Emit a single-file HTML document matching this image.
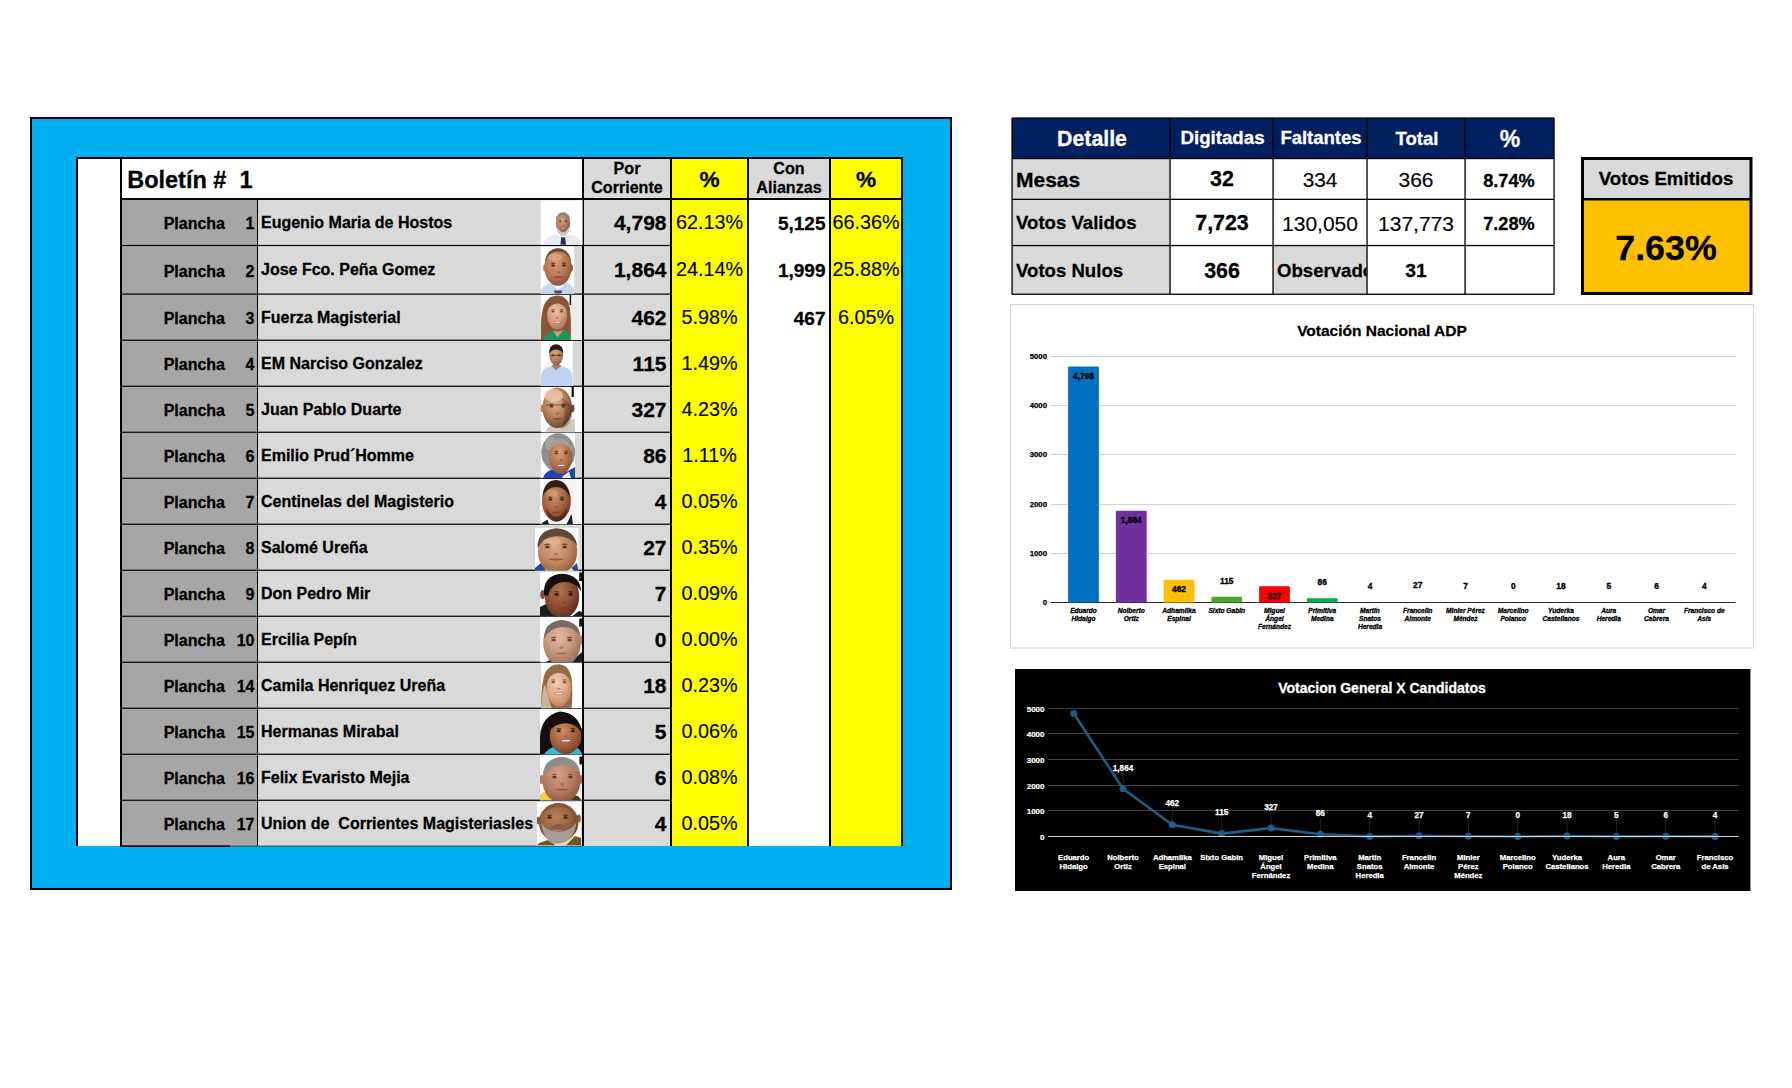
<!DOCTYPE html>
<html lang="es"><head><meta charset="utf-8"><title>Boletín # 1</title>
<style>
html,body{margin:0;padding:0;background:#fff;}
body{width:1792px;height:1088px;overflow:hidden;}
svg{display:block;font-family:"Liberation Sans",sans-serif;}
</style></head><body>
<svg width="1792" height="1088" viewBox="0 0 1792 1088">
<rect x="30" y="117" width="922" height="773" fill="#000" />
<rect x="32" y="119" width="918" height="769" fill="#00b0f0" />
<rect x="76" y="157" width="827" height="690" fill="#000" />
<rect x="78" y="159" width="42" height="688" fill="#fff" />
<rect x="122" y="159" width="460" height="39" fill="#fff" />
<rect x="122" y="200" width="135" height="646" fill="#a6a6a6" />
<rect x="258" y="200" width="324" height="646" fill="#d9d9d9" />
<rect x="584" y="159" width="86" height="688" fill="#d9d9d9" />
<rect x="672" y="159" width="75" height="688" fill="#ffff00" />
<rect x="749" y="159" width="80" height="39" fill="#d9d9d9" />
<rect x="749" y="200" width="80" height="647" fill="#fff" />
<rect x="831" y="159" width="70" height="688" fill="#ffff00" />
<rect x="120" y="198" width="783" height="2" fill="#000" />
<rect x="122" y="244.9" width="548" height="1.2" fill="#000" />
<rect x="122" y="293.5" width="548" height="1.2" fill="#000" />
<rect x="122" y="339.65" width="548" height="1.2" fill="#000" />
<rect x="122" y="385.65" width="548" height="1.2" fill="#000" />
<rect x="122" y="431.65" width="548" height="1.2" fill="#000" />
<rect x="122" y="477.65" width="548" height="1.2" fill="#000" />
<rect x="122" y="523.65" width="548" height="1.2" fill="#000" />
<rect x="122" y="569.65" width="548" height="1.2" fill="#000" />
<rect x="122" y="615.65" width="548" height="1.2" fill="#000" />
<rect x="122" y="661.65" width="548" height="1.2" fill="#000" />
<rect x="122" y="707.65" width="548" height="1.2" fill="#000" />
<rect x="122" y="753.65" width="548" height="1.2" fill="#000" />
<rect x="122" y="799.65" width="548" height="1.2" fill="#000" />
<rect x="76" y="846" width="827" height="2" fill="#00b0f0" />
<rect x="120" y="845.3" width="110" height="1.7" fill="#000" />
<rect x="230" y="845.6" width="352" height="1" fill="#444" />
<text x="127.2" y="188" font-size="23.5" text-anchor="start" font-weight="bold" fill="#000"  stroke="#000" stroke-width="0.28">Boletín #&#160;&#160;1</text>
<text x="627" y="173.6" font-size="16.1" text-anchor="middle" font-weight="bold" fill="#000"  stroke="#000" stroke-width="0.28">Por</text>
<text x="627" y="192.8" font-size="16.1" text-anchor="middle" font-weight="bold" fill="#000"  stroke="#000" stroke-width="0.28">Corriente</text>
<text x="709.5" y="186.8" font-size="22.6" text-anchor="middle" font-weight="bold" fill="#000"  stroke="#000" stroke-width="0.28">%</text>
<text x="789" y="173.6" font-size="16.1" text-anchor="middle" font-weight="bold" fill="#000"  stroke="#000" stroke-width="0.28">Con</text>
<text x="789" y="192.8" font-size="16.1" text-anchor="middle" font-weight="bold" fill="#000"  stroke="#000" stroke-width="0.28">Alianzas</text>
<text x="866" y="186.8" font-size="22.6" text-anchor="middle" font-weight="bold" fill="#000"  stroke="#000" stroke-width="0.28">%</text>
<text x="225" y="229.45" font-size="16" text-anchor="end" font-weight="bold" fill="#000"  stroke="#000" stroke-width="0.28">Plancha</text>
<text x="254.5" y="229.45" font-size="16" text-anchor="end" font-weight="bold" fill="#000"  stroke="#000" stroke-width="0.28">1</text>
<text x="261" y="228.15" font-size="16" text-anchor="start" font-weight="bold" fill="#000"  stroke="#000" stroke-width="0.28">Eugenio Maria de Hostos</text>
<text x="666.5" y="230.25" font-size="21" text-anchor="end" font-weight="bold" fill="#000"  stroke="#000" stroke-width="0.28">4,798</text>
<text x="709.5" y="229.35" font-size="19.8" text-anchor="middle" font-weight="normal" fill="#000"  stroke="#000" stroke-width="0.15">62.13%</text>
<text x="825.5" y="230.15" font-size="19" text-anchor="end" font-weight="bold" fill="#000"  stroke="#000" stroke-width="0.28">5,125</text>
<text x="866" y="229.35" font-size="19.8" text-anchor="middle" font-weight="normal" fill="#000"  stroke="#000" stroke-width="0.15">66.36%</text>
<text x="225" y="276.5" font-size="16" text-anchor="end" font-weight="bold" fill="#000"  stroke="#000" stroke-width="0.28">Plancha</text>
<text x="254.5" y="276.5" font-size="16" text-anchor="end" font-weight="bold" fill="#000"  stroke="#000" stroke-width="0.28">2</text>
<text x="261" y="275.2" font-size="16" text-anchor="start" font-weight="bold" fill="#000"  stroke="#000" stroke-width="0.28">Jose Fco. Peña Gomez</text>
<text x="666.5" y="277.3" font-size="21" text-anchor="end" font-weight="bold" fill="#000"  stroke="#000" stroke-width="0.28">1,864</text>
<text x="709.5" y="276.4" font-size="19.8" text-anchor="middle" font-weight="normal" fill="#000"  stroke="#000" stroke-width="0.15">24.14%</text>
<text x="825.5" y="277.2" font-size="19" text-anchor="end" font-weight="bold" fill="#000"  stroke="#000" stroke-width="0.28">1,999</text>
<text x="866" y="276.4" font-size="19.8" text-anchor="middle" font-weight="normal" fill="#000"  stroke="#000" stroke-width="0.15">25.88%</text>
<text x="225" y="323.875" font-size="16" text-anchor="end" font-weight="bold" fill="#000"  stroke="#000" stroke-width="0.28">Plancha</text>
<text x="254.5" y="323.875" font-size="16" text-anchor="end" font-weight="bold" fill="#000"  stroke="#000" stroke-width="0.28">3</text>
<text x="261" y="322.575" font-size="16" text-anchor="start" font-weight="bold" fill="#000"  stroke="#000" stroke-width="0.28">Fuerza Magisterial</text>
<text x="666.5" y="324.675" font-size="21" text-anchor="end" font-weight="bold" fill="#000"  stroke="#000" stroke-width="0.28">462</text>
<text x="709.5" y="323.775" font-size="19.8" text-anchor="middle" font-weight="normal" fill="#000"  stroke="#000" stroke-width="0.15">5.98%</text>
<text x="825.5" y="324.575" font-size="19" text-anchor="end" font-weight="bold" fill="#000"  stroke="#000" stroke-width="0.28">467</text>
<text x="866" y="323.775" font-size="19.8" text-anchor="middle" font-weight="normal" fill="#000"  stroke="#000" stroke-width="0.15">6.05%</text>
<text x="225" y="369.95" font-size="16" text-anchor="end" font-weight="bold" fill="#000"  stroke="#000" stroke-width="0.28">Plancha</text>
<text x="254.5" y="369.95" font-size="16" text-anchor="end" font-weight="bold" fill="#000"  stroke="#000" stroke-width="0.28">4</text>
<text x="261" y="368.65" font-size="16" text-anchor="start" font-weight="bold" fill="#000"  stroke="#000" stroke-width="0.28">EM Narciso Gonzalez</text>
<text x="666.5" y="370.75" font-size="21" text-anchor="end" font-weight="bold" fill="#000"  stroke="#000" stroke-width="0.28">115</text>
<text x="709.5" y="369.85" font-size="19.8" text-anchor="middle" font-weight="normal" fill="#000"  stroke="#000" stroke-width="0.15">1.49%</text>
<text x="225" y="415.95" font-size="16" text-anchor="end" font-weight="bold" fill="#000"  stroke="#000" stroke-width="0.28">Plancha</text>
<text x="254.5" y="415.95" font-size="16" text-anchor="end" font-weight="bold" fill="#000"  stroke="#000" stroke-width="0.28">5</text>
<text x="261" y="414.65" font-size="16" text-anchor="start" font-weight="bold" fill="#000"  stroke="#000" stroke-width="0.28">Juan Pablo Duarte</text>
<text x="666.5" y="416.75" font-size="21" text-anchor="end" font-weight="bold" fill="#000"  stroke="#000" stroke-width="0.28">327</text>
<text x="709.5" y="415.85" font-size="19.8" text-anchor="middle" font-weight="normal" fill="#000"  stroke="#000" stroke-width="0.15">4.23%</text>
<text x="225" y="461.95" font-size="16" text-anchor="end" font-weight="bold" fill="#000"  stroke="#000" stroke-width="0.28">Plancha</text>
<text x="254.5" y="461.95" font-size="16" text-anchor="end" font-weight="bold" fill="#000"  stroke="#000" stroke-width="0.28">6</text>
<text x="261" y="460.65" font-size="16" text-anchor="start" font-weight="bold" fill="#000"  stroke="#000" stroke-width="0.28">Emilio Prud´Homme</text>
<text x="666.5" y="462.75" font-size="21" text-anchor="end" font-weight="bold" fill="#000"  stroke="#000" stroke-width="0.28">86</text>
<text x="709.5" y="461.85" font-size="19.8" text-anchor="middle" font-weight="normal" fill="#000"  stroke="#000" stroke-width="0.15">1.11%</text>
<text x="225" y="507.95" font-size="16" text-anchor="end" font-weight="bold" fill="#000"  stroke="#000" stroke-width="0.28">Plancha</text>
<text x="254.5" y="507.95" font-size="16" text-anchor="end" font-weight="bold" fill="#000"  stroke="#000" stroke-width="0.28">7</text>
<text x="261" y="506.65" font-size="16" text-anchor="start" font-weight="bold" fill="#000"  stroke="#000" stroke-width="0.28">Centinelas del Magisterio</text>
<text x="666.5" y="508.75" font-size="21" text-anchor="end" font-weight="bold" fill="#000"  stroke="#000" stroke-width="0.28">4</text>
<text x="709.5" y="507.85" font-size="19.8" text-anchor="middle" font-weight="normal" fill="#000"  stroke="#000" stroke-width="0.15">0.05%</text>
<text x="225" y="553.95" font-size="16" text-anchor="end" font-weight="bold" fill="#000"  stroke="#000" stroke-width="0.28">Plancha</text>
<text x="254.5" y="553.95" font-size="16" text-anchor="end" font-weight="bold" fill="#000"  stroke="#000" stroke-width="0.28">8</text>
<text x="261" y="552.65" font-size="16" text-anchor="start" font-weight="bold" fill="#000"  stroke="#000" stroke-width="0.28">Salomé Ureña</text>
<text x="666.5" y="554.75" font-size="21" text-anchor="end" font-weight="bold" fill="#000"  stroke="#000" stroke-width="0.28">27</text>
<text x="709.5" y="553.85" font-size="19.8" text-anchor="middle" font-weight="normal" fill="#000"  stroke="#000" stroke-width="0.15">0.35%</text>
<text x="225" y="599.95" font-size="16" text-anchor="end" font-weight="bold" fill="#000"  stroke="#000" stroke-width="0.28">Plancha</text>
<text x="254.5" y="599.95" font-size="16" text-anchor="end" font-weight="bold" fill="#000"  stroke="#000" stroke-width="0.28">9</text>
<text x="261" y="598.65" font-size="16" text-anchor="start" font-weight="bold" fill="#000"  stroke="#000" stroke-width="0.28">Don Pedro Mir</text>
<text x="666.5" y="600.75" font-size="21" text-anchor="end" font-weight="bold" fill="#000"  stroke="#000" stroke-width="0.28">7</text>
<text x="709.5" y="599.85" font-size="19.8" text-anchor="middle" font-weight="normal" fill="#000"  stroke="#000" stroke-width="0.15">0.09%</text>
<text x="225" y="645.95" font-size="16" text-anchor="end" font-weight="bold" fill="#000"  stroke="#000" stroke-width="0.28">Plancha</text>
<text x="254.5" y="645.95" font-size="16" text-anchor="end" font-weight="bold" fill="#000"  stroke="#000" stroke-width="0.28">10</text>
<text x="261" y="644.65" font-size="16" text-anchor="start" font-weight="bold" fill="#000"  stroke="#000" stroke-width="0.28">Ercilia Pepín</text>
<text x="666.5" y="646.75" font-size="21" text-anchor="end" font-weight="bold" fill="#000"  stroke="#000" stroke-width="0.28">0</text>
<text x="709.5" y="645.85" font-size="19.8" text-anchor="middle" font-weight="normal" fill="#000"  stroke="#000" stroke-width="0.15">0.00%</text>
<text x="225" y="691.95" font-size="16" text-anchor="end" font-weight="bold" fill="#000"  stroke="#000" stroke-width="0.28">Plancha</text>
<text x="254.5" y="691.95" font-size="16" text-anchor="end" font-weight="bold" fill="#000"  stroke="#000" stroke-width="0.28">14</text>
<text x="261" y="690.65" font-size="16" text-anchor="start" font-weight="bold" fill="#000"  stroke="#000" stroke-width="0.28">Camila Henriquez Ureña</text>
<text x="666.5" y="692.75" font-size="21" text-anchor="end" font-weight="bold" fill="#000"  stroke="#000" stroke-width="0.28">18</text>
<text x="709.5" y="691.85" font-size="19.8" text-anchor="middle" font-weight="normal" fill="#000"  stroke="#000" stroke-width="0.15">0.23%</text>
<text x="225" y="737.95" font-size="16" text-anchor="end" font-weight="bold" fill="#000"  stroke="#000" stroke-width="0.28">Plancha</text>
<text x="254.5" y="737.95" font-size="16" text-anchor="end" font-weight="bold" fill="#000"  stroke="#000" stroke-width="0.28">15</text>
<text x="261" y="736.65" font-size="16" text-anchor="start" font-weight="bold" fill="#000"  stroke="#000" stroke-width="0.28">Hermanas Mirabal</text>
<text x="666.5" y="738.75" font-size="21" text-anchor="end" font-weight="bold" fill="#000"  stroke="#000" stroke-width="0.28">5</text>
<text x="709.5" y="737.85" font-size="19.8" text-anchor="middle" font-weight="normal" fill="#000"  stroke="#000" stroke-width="0.15">0.06%</text>
<text x="225" y="783.95" font-size="16" text-anchor="end" font-weight="bold" fill="#000"  stroke="#000" stroke-width="0.28">Plancha</text>
<text x="254.5" y="783.95" font-size="16" text-anchor="end" font-weight="bold" fill="#000"  stroke="#000" stroke-width="0.28">16</text>
<text x="261" y="782.65" font-size="16" text-anchor="start" font-weight="bold" fill="#000"  stroke="#000" stroke-width="0.28">Felix Evaristo Mejia</text>
<text x="666.5" y="784.75" font-size="21" text-anchor="end" font-weight="bold" fill="#000"  stroke="#000" stroke-width="0.28">6</text>
<text x="709.5" y="783.85" font-size="19.8" text-anchor="middle" font-weight="normal" fill="#000"  stroke="#000" stroke-width="0.15">0.08%</text>
<text x="225" y="829.825" font-size="16" text-anchor="end" font-weight="bold" fill="#000"  stroke="#000" stroke-width="0.28">Plancha</text>
<text x="254.5" y="829.825" font-size="16" text-anchor="end" font-weight="bold" fill="#000"  stroke="#000" stroke-width="0.28">17</text>
<text x="261" y="828.525" font-size="16" text-anchor="start" font-weight="bold" fill="#000"  stroke="#000" stroke-width="0.28">Union de&#160; Corrientes Magisteriasles</text>
<text x="666.5" y="830.625" font-size="21" text-anchor="end" font-weight="bold" fill="#000"  stroke="#000" stroke-width="0.28">4</text>
<text x="709.5" y="829.725" font-size="19.8" text-anchor="middle" font-weight="normal" fill="#000"  stroke="#000" stroke-width="0.15">0.05%</text>
<defs><filter id="bl" x="-5%" y="-5%" width="110%" height="110%"><feGaussianBlur stdDeviation="0.5"/></filter>
<radialGradient id="sk1" cx="0.42" cy="0.36" r="0.72"><stop offset="0" stop-color="#d3a084"/><stop offset="0.55" stop-color="#b07c60"/><stop offset="1" stop-color="#7e5038"/></radialGradient>
<radialGradient id="sk2" cx="0.42" cy="0.36" r="0.72"><stop offset="0" stop-color="#d99c76"/><stop offset="0.55" stop-color="#b87854"/><stop offset="1" stop-color="#84492e"/></radialGradient>
<radialGradient id="sk3" cx="0.42" cy="0.36" r="0.72"><stop offset="0" stop-color="#edbfa2"/><stop offset="0.55" stop-color="#d69c7c"/><stop offset="1" stop-color="#a86c4e"/></radialGradient>
<radialGradient id="sk4" cx="0.42" cy="0.36" r="0.72"><stop offset="0" stop-color="#d9a484"/><stop offset="0.55" stop-color="#b98062"/><stop offset="1" stop-color="#8a563a"/></radialGradient>
<radialGradient id="sk5" cx="0.42" cy="0.36" r="0.72"><stop offset="0" stop-color="#e0b494"/><stop offset="0.55" stop-color="#b07a58"/><stop offset="1" stop-color="#5e3626"/></radialGradient>
<radialGradient id="sk6" cx="0.42" cy="0.36" r="0.72"><stop offset="0" stop-color="#d9a07a"/><stop offset="0.55" stop-color="#b4744e"/><stop offset="1" stop-color="#7e4830"/></radialGradient>
<radialGradient id="sk7" cx="0.42" cy="0.36" r="0.72"><stop offset="0" stop-color="#d09468"/><stop offset="0.55" stop-color="#a4623e"/><stop offset="1" stop-color="#5c2e1c"/></radialGradient>
<radialGradient id="sk8" cx="0.42" cy="0.36" r="0.72"><stop offset="0" stop-color="#e0aa8a"/><stop offset="0.55" stop-color="#c08662"/><stop offset="1" stop-color="#8a5638"/></radialGradient>
<radialGradient id="sk9" cx="0.42" cy="0.36" r="0.72"><stop offset="0" stop-color="#b87450"/><stop offset="0.55" stop-color="#8c4c32"/><stop offset="1" stop-color="#4e261a"/></radialGradient>
<radialGradient id="sk10" cx="0.42" cy="0.36" r="0.72"><stop offset="0" stop-color="#e2b8a0"/><stop offset="0.55" stop-color="#c4947a"/><stop offset="1" stop-color="#8e6450"/></radialGradient>
<radialGradient id="sk11" cx="0.42" cy="0.36" r="0.72"><stop offset="0" stop-color="#f6cdb2"/><stop offset="0.55" stop-color="#e2a686"/><stop offset="1" stop-color="#b87a5a"/></radialGradient>
<radialGradient id="sk12" cx="0.42" cy="0.36" r="0.72"><stop offset="0" stop-color="#cc8c64"/><stop offset="0.55" stop-color="#a4623e"/><stop offset="1" stop-color="#6a3822"/></radialGradient>
<radialGradient id="sk13" cx="0.42" cy="0.36" r="0.72"><stop offset="0" stop-color="#d8a084"/><stop offset="0.55" stop-color="#b87c60"/><stop offset="1" stop-color="#80503a"/></radialGradient>
<radialGradient id="sk14" cx="0.42" cy="0.36" r="0.72"><stop offset="0" stop-color="#b8805a"/><stop offset="0.55" stop-color="#94603e"/><stop offset="1" stop-color="#5c3822"/></radialGradient>
</defs>
<clipPath id="cp1"><rect x="540.8" y="200.4" width="41.8" height="44.4"/></clipPath>
<rect x="540.8" y="200.4" width="41.8" height="44.4" fill="#fff" />
<g clip-path="url(#cp1)"><g filter="url(#bl)">
<path d="M543 245 Q545 236 556 234.5 L563 238 L570 234.5 Q580 236 581 245 Z" fill="#e6eaf3" />
<ellipse cx="563" cy="223.3" rx="7.2" ry="10.6" fill="url(#sk1)" />
<path d="M555.9 220 Q556.6 212.4 563 212.3 Q569.6 212.4 570.3 220 Q569 215.4 563 215 Q557.4 215.4 555.9 220 Z" fill="#8a837c" opacity="0.8"/>
<path d="M556.8 226.5 Q563 238 569.4 226.5 Q569 235.6 563 236.2 Q557.4 235.6 556.8 226.5 Z" fill="#cfc9c4" />
<ellipse cx="560.2" cy="220.19" rx="1.32" ry="0.385" fill="#3a2418" opacity="0.7"/>
<ellipse cx="560.2" cy="221.4" rx="0.935" ry="0.495" fill="#2a1a14" opacity="0.85"/>
<ellipse cx="560.2" cy="221.51" rx="1.43" ry="0.88" fill="#2a1a14" opacity="0.18"/>
<ellipse cx="566" cy="220.19" rx="1.32" ry="0.385" fill="#3a2418" opacity="0.7"/>
<ellipse cx="566" cy="221.4" rx="0.935" ry="0.495" fill="#2a1a14" opacity="0.85"/>
<ellipse cx="566" cy="221.51" rx="1.43" ry="0.88" fill="#2a1a14" opacity="0.18"/>
<ellipse cx="563.1" cy="225.576" rx="1.045" ry="0.55" fill="#5a2e1e" opacity="0.35"/>
<ellipse cx="563.1" cy="228.6" rx="2.5" ry="0.825" fill="#8a4a3a" opacity="0.9"/>
<ellipse cx="563.1" cy="228.6" rx="2" ry="0.44" fill="#f8f2ee" />
<path d="M561.2 237.3 L565 237.3 L566.2 245 L560.4 245 Z" fill="#25344c" />
</g></g>
<clipPath id="cp2"><rect x="540.8" y="246.5" width="33.3" height="47.1"/></clipPath>
<rect x="540.8" y="246.5" width="33.3" height="47.1" fill="#fff" />
<g clip-path="url(#cp2)"><g filter="url(#bl)">
<path d="M540 294 Q541 285 552 283 L558 290 L566 283 Q574 284.5 575 294 Z" fill="#c6d6ef" />
<ellipse cx="558" cy="267" rx="13.6" ry="18.8" fill="url(#sk2)" />
<ellipse cx="544.6" cy="268" rx="1.5" ry="3.4" fill="#b07a58" />
<ellipse cx="571.4" cy="268" rx="1.5" ry="3.4" fill="#8c5236" />
<path d="M545.2 262 Q546 249 558 248.3 Q570 249 571 262 Q568.5 252 558 251.6 Q548 252 545.2 262 Z" fill="#5b4434" opacity="0.85"/>
<ellipse cx="555" cy="257" rx="7" ry="3.6" fill="#e6b08c" opacity="0.55"/>
<ellipse cx="553.2" cy="263.2" rx="2.4" ry="0.7" fill="#3a2418" opacity="0.7"/>
<ellipse cx="553.2" cy="265.4" rx="1.7" ry="0.9" fill="#2a1a14" opacity="0.85"/>
<ellipse cx="553.2" cy="265.6" rx="2.6" ry="1.6" fill="#2a1a14" opacity="0.18"/>
<ellipse cx="564" cy="263.2" rx="2.4" ry="0.7" fill="#3a2418" opacity="0.7"/>
<ellipse cx="564" cy="265.4" rx="1.7" ry="0.9" fill="#2a1a14" opacity="0.85"/>
<ellipse cx="564" cy="265.6" rx="2.6" ry="1.6" fill="#2a1a14" opacity="0.18"/>
<ellipse cx="558.6" cy="272.128" rx="1.9" ry="1" fill="#5a2e1e" opacity="0.35"/>
<ellipse cx="558.6" cy="277" rx="4.8" ry="0.85" fill="#7c3f30" opacity="0.8"/>
<path d="M554 290.5 L562.5 290.5 L561 294 L555 294 Z" fill="#3d4f80" />
</g></g>
<rect x="570.9" y="295" width="11.1" height="45" fill="#ececec" />
<clipPath id="cp3"><rect x="540.8" y="295" width="30.1" height="44.9"/></clipPath>
<rect x="540.8" y="295" width="30.1" height="44.9" fill="#fff" />
<g clip-path="url(#cp3)"><g filter="url(#bl)">
<path d="M541 340 Q540 312 545 303 Q550 295.5 558 295.6 Q567 296 569.5 306 Q572 320 570.8 340 Z" fill="#87563c" />
<ellipse cx="557.2" cy="315" rx="10" ry="14.8" fill="url(#sk3)" />
<path d="M546.8 311 Q548.6 298.4 558 298.2 Q566.4 298.8 567.8 311 Q563 303 557 303.4 Q550 304 546.8 311 Z" fill="#87563c" />
<path d="M544 340 Q546.5 331.5 553 330.5 L557.5 335 L563 330 Q569.5 331 571 340 Z" fill="#17995a" />
<path d="M553 330.5 L557.5 337.5 L563 330 Q558 332.6 553 330.5Z" fill="#d49a78" />
<ellipse cx="553.1" cy="309.84" rx="1.92" ry="0.56" fill="#3a2418" opacity="0.7"/>
<ellipse cx="553.1" cy="311.6" rx="1.36" ry="0.72" fill="#3a2218" opacity="0.85"/>
<ellipse cx="553.1" cy="311.76" rx="2.08" ry="1.28" fill="#3a2218" opacity="0.18"/>
<ellipse cx="561.5" cy="309.84" rx="1.92" ry="0.56" fill="#3a2418" opacity="0.7"/>
<ellipse cx="561.5" cy="311.6" rx="1.36" ry="0.72" fill="#3a2218" opacity="0.85"/>
<ellipse cx="561.5" cy="311.76" rx="2.08" ry="1.28" fill="#3a2218" opacity="0.18"/>
<ellipse cx="557.3" cy="317.748" rx="1.52" ry="0.8" fill="#5a2e1e" opacity="0.35"/>
<ellipse cx="557.3" cy="322.2" rx="3.7" ry="1.2" fill="#b0564a" opacity="0.9"/>
<ellipse cx="557.3" cy="322.2" rx="2.96" ry="0.64" fill="#f8f2ee" />
</g></g>
<rect x="569.6" y="295" width="1.5" height="10" fill="#111" />
<clipPath id="cp4"><rect x="540.8" y="341.2" width="31.9" height="44.7"/></clipPath>
<rect x="540.8" y="341.2" width="31.9" height="44.7" fill="#fff" />
<g clip-path="url(#cp4)"><g filter="url(#bl)">
<path d="M541 386 L541 375 Q543 367.5 551.5 366 L556 369.5 L561.5 366 Q570.5 367.5 572.5 375 L572.7 386 Z" fill="#bfd3f0" />
<path d="M551.5 366 L556 370 L561.5 366 L558.6 364 L553.6 364Z" fill="#b07858" />
<ellipse cx="556.2" cy="355.4" rx="6.8" ry="10.2" fill="url(#sk4)" />
<path d="M549.2 354.6 Q548.4 344.5 556 344.3 Q563.8 344.5 563.2 354.6 Q562.4 349.8 556 349.5 Q550 349.8 549.2 354.6 Z" fill="#241d1a" />
<ellipse cx="553.2" cy="354.39" rx="1.32" ry="0.385" fill="#3a2418" opacity="0.7"/>
<ellipse cx="553.2" cy="355.6" rx="0.935" ry="0.495" fill="#2a1a14" opacity="0.85"/>
<ellipse cx="553.2" cy="355.71" rx="1.43" ry="0.88" fill="#2a1a14" opacity="0.18"/>
<ellipse cx="559.2" cy="354.39" rx="1.32" ry="0.385" fill="#3a2418" opacity="0.7"/>
<ellipse cx="559.2" cy="355.6" rx="0.935" ry="0.495" fill="#2a1a14" opacity="0.85"/>
<ellipse cx="559.2" cy="355.71" rx="1.43" ry="0.88" fill="#2a1a14" opacity="0.18"/>
<ellipse cx="556.2" cy="358.964" rx="1.045" ry="0.55" fill="#5a2e1e" opacity="0.35"/>
<ellipse cx="556.2" cy="361.4" rx="2.4" ry="0.4675" fill="#8a4a3a" opacity="0.8"/>
<rect x="550.4" y="354.9" width="11.6" height="0.9" fill="#2b2320" opacity="0.8"/>
</g></g>
<clipPath id="cp5"><rect x="540.8" y="387" width="41.2" height="45.3"/></clipPath>
<rect x="540.8" y="387" width="41.2" height="45.3" fill="#fff" />
<g clip-path="url(#cp5)"><g filter="url(#bl)">
<path d="M545 432.5 Q548 425 556 424 L566 424 Q572 420 574.5 418.5 L575 432.5 Z" fill="#cfcac0" />
<ellipse cx="557.3" cy="407.8" rx="14.8" ry="20.2" fill="url(#sk5)" />
<ellipse cx="553.5" cy="395.5" rx="9.5" ry="6.5" fill="#ecc8ac" opacity="0.75"/>
<ellipse cx="542.2" cy="408.5" rx="1.8" ry="3.8" fill="#b57c5c" />
<ellipse cx="572.6" cy="408.5" rx="1.8" ry="3.8" fill="#6a4030" />
<path d="M562 398 Q574 402 571.6 420 Q566 428.5 561 428.5 Q568 415 562 398Z" fill="#42261c" opacity="0.32"/>
<ellipse cx="551.4" cy="404.2" rx="2.4" ry="0.7" fill="#3a2418" opacity="0.7"/>
<ellipse cx="551.4" cy="406.4" rx="1.7" ry="0.9" fill="#3a241c" opacity="0.85"/>
<ellipse cx="551.4" cy="406.6" rx="2.6" ry="1.6" fill="#3a241c" opacity="0.18"/>
<ellipse cx="563.4" cy="404.2" rx="2.4" ry="0.7" fill="#3a2418" opacity="0.7"/>
<ellipse cx="563.4" cy="406.4" rx="1.7" ry="0.9" fill="#3a241c" opacity="0.85"/>
<ellipse cx="563.4" cy="406.6" rx="2.6" ry="1.6" fill="#3a241c" opacity="0.18"/>
<ellipse cx="557.4" cy="413.592" rx="1.9" ry="1" fill="#5a2e1e" opacity="0.35"/>
<ellipse cx="557.4" cy="418.8" rx="4.8" ry="0.85" fill="#7a4434" opacity="0.8"/>
<rect x="546" y="404.6" width="23.6" height="0.9" fill="#3a2a24" opacity="0.7"/>
</g></g>
<rect x="571.6" y="387" width="2.2" height="10" fill="#111" />
<clipPath id="cp6"><rect x="540.8" y="433" width="34.2" height="45"/></clipPath>
<rect x="540.8" y="433" width="34.2" height="45" fill="#fff" />
<g clip-path="url(#cp6)"><g filter="url(#bl)">
<ellipse cx="558.2" cy="452.5" rx="16.9" ry="19.2" fill="#908e8c" />
<ellipse cx="551" cy="444" rx="6" ry="7" fill="#b4b2b0" opacity="0.6"/>
<path d="M543 478 Q545 471.5 552 469.5 L558 473 L566 472 L575 467 L575 478 Z" fill="#2444ae" />
<ellipse cx="560.7" cy="456.6" rx="11.5" ry="17.4" fill="url(#sk6)" />
<path d="M549 452 Q550.4 437.6 561.5 438.6 Q571 440.6 572.4 452 Q566.6 442.4 559.4 443.2 Q552 444.2 549 452Z" fill="#a09e9c" />
<ellipse cx="556.4" cy="451.22" rx="2.16" ry="0.63" fill="#3a2418" opacity="0.7"/>
<ellipse cx="556.4" cy="453.2" rx="1.53" ry="0.81" fill="#2e1a12" opacity="0.85"/>
<ellipse cx="556.4" cy="453.38" rx="2.34" ry="1.44" fill="#2e1a12" opacity="0.18"/>
<ellipse cx="566" cy="451.22" rx="2.16" ry="0.63" fill="#3a2418" opacity="0.7"/>
<ellipse cx="566" cy="453.2" rx="1.53" ry="0.81" fill="#2e1a12" opacity="0.85"/>
<ellipse cx="566" cy="453.38" rx="2.34" ry="1.44" fill="#2e1a12" opacity="0.18"/>
<ellipse cx="561.2" cy="460.276" rx="1.71" ry="0.9" fill="#5a2e1e" opacity="0.35"/>
<ellipse cx="561.2" cy="465.4" rx="4.4" ry="1.35" fill="#c8586a" opacity="0.9"/>
<ellipse cx="561.2" cy="465.4" rx="3.52" ry="0.72" fill="#f8f2ee" />
<path d="M563 476 L569 471.5 L571 478 L562 478Z" fill="#f2f2f2" />
</g></g>
<clipPath id="cp7"><rect x="540.3" y="479" width="41.7" height="45.2"/></clipPath>
<rect x="540.3" y="479" width="41.7" height="45.2" fill="#f3f3f3" />
<g clip-path="url(#cp7)"><g filter="url(#bl)">
<rect x="540.3" y="479" width="28" height="45.2" fill="#fcfcfc" />
<path d="M540 524.5 L549 519 L557 521.5 L566 516 L572 512.5 L573 524.5 Z" fill="#f0f0f2" />
<path d="M540 524.5 L547.5 519.5 L549 524.5 Z M566.5 524.5 L571.5 514 L573 524.5Z" fill="#161a2a" />
<ellipse cx="556.4" cy="500.8" rx="14.4" ry="20.6" fill="url(#sk7)" />
<path d="M542.6 497 Q543.4 480.8 556 480 Q568.6 480.8 570.2 498 Q566.4 487.4 556 487 Q546 487.6 542.6 497 Z" fill="#341e14" />
<path d="M546.4 508 Q556 526 567 508 Q566 520.8 556.5 521.8 Q548 520.8 546.4 508Z" fill="#40241a" opacity="0.7"/>
<ellipse cx="552.5" cy="493.5" rx="6" ry="3.4" fill="#dca27a" opacity="0.5"/>
<ellipse cx="550.4" cy="497.2" rx="2.4" ry="0.7" fill="#3a2418" opacity="0.7"/>
<ellipse cx="550.4" cy="499.4" rx="1.7" ry="0.9" fill="#241410" opacity="0.85"/>
<ellipse cx="550.4" cy="499.6" rx="2.6" ry="1.6" fill="#241410" opacity="0.18"/>
<ellipse cx="562" cy="497.2" rx="2.4" ry="0.7" fill="#3a2418" opacity="0.7"/>
<ellipse cx="562" cy="499.4" rx="1.7" ry="0.9" fill="#241410" opacity="0.85"/>
<ellipse cx="562" cy="499.6" rx="2.6" ry="1.6" fill="#241410" opacity="0.18"/>
<ellipse cx="556.2" cy="507.056" rx="1.9" ry="1" fill="#5a2e1e" opacity="0.35"/>
<ellipse cx="556.2" cy="512.6" rx="4.2" ry="0.85" fill="#8a4038" opacity="0.8"/>
</g></g>
<clipPath id="cp8"><rect x="535" y="528" width="43.4" height="42.8"/></clipPath>
<rect x="535" y="528" width="43.4" height="42.8" fill="#fff" />
<g clip-path="url(#cp8)"><g filter="url(#bl)">
<path d="M546 571 Q544 566 541 563 L535 568 L535 571Z M568 571 L577 563 L578.4 571Z" fill="#2747a0" />
<path d="M556 571 L570 566 L574 571Z" fill="#e8e8ee" />
<ellipse cx="557.6" cy="551.5" rx="19.7" ry="22.6" fill="url(#sk8)" />
<path d="M537.6 548 Q536.8 530.4 556 528.3 Q574.4 529.4 577.4 546 Q570 535.8 556 536.2 Q543 537.2 537.6 548Z" fill="#5e4a3c" />
<ellipse cx="552" cy="541.5" rx="9" ry="3.6" fill="#eec0a2" opacity="0.5"/>
<ellipse cx="547.4" cy="544.36" rx="2.88" ry="0.84" fill="#3a2418" opacity="0.7"/>
<ellipse cx="547.4" cy="547" rx="2.04" ry="1.08" fill="#3a2218" opacity="0.85"/>
<ellipse cx="547.4" cy="547.24" rx="3.12" ry="1.92" fill="#3a2218" opacity="0.18"/>
<ellipse cx="564.6" cy="544.36" rx="2.88" ry="0.84" fill="#3a2418" opacity="0.7"/>
<ellipse cx="564.6" cy="547" rx="2.04" ry="1.08" fill="#3a2218" opacity="0.85"/>
<ellipse cx="564.6" cy="547.24" rx="3.12" ry="1.92" fill="#3a2218" opacity="0.18"/>
<ellipse cx="556" cy="554.192" rx="2.28" ry="1.2" fill="#5a2e1e" opacity="0.35"/>
<ellipse cx="556" cy="559.4" rx="6.8" ry="1.02" fill="#8e4a3a" opacity="0.8"/>
</g></g>
<clipPath id="cp9"><rect x="540" y="572" width="42" height="44.2"/></clipPath>
<rect x="540" y="572" width="42" height="44.2" fill="#fff" />
<g clip-path="url(#cp9)"><g filter="url(#bl)">
<path d="M540 616.5 L540 607 L546 604 L556 616.5Z M572 616.5 L579 611 L582 612 L582 616.5Z" fill="#1b1b1f" />
<path d="M547 605 L556 616.5 L563 616.5 Z" fill="#eeeeee" />
<ellipse cx="562" cy="596.5" rx="17.2" ry="22" fill="url(#sk9)" />
<ellipse cx="542.6" cy="594.5" rx="2.4" ry="4.6" fill="#8a4c34" />
<path d="M544 595 Q542.6 575 562 573.8 Q580.4 575 581 591 Q575 581.6 564 582 Q551 583 548 596Z" fill="#15100e" />
<ellipse cx="556.6" cy="591.87" rx="2.76" ry="0.805" fill="#3a2418" opacity="0.7"/>
<ellipse cx="556.6" cy="594.4" rx="1.955" ry="1.035" fill="#150c0a" opacity="0.85"/>
<ellipse cx="556.6" cy="594.63" rx="2.99" ry="1.84" fill="#150c0a" opacity="0.18"/>
<ellipse cx="570.6" cy="591.87" rx="2.76" ry="0.805" fill="#3a2418" opacity="0.7"/>
<ellipse cx="570.6" cy="594.4" rx="1.955" ry="1.035" fill="#150c0a" opacity="0.85"/>
<ellipse cx="570.6" cy="594.63" rx="2.99" ry="1.84" fill="#150c0a" opacity="0.18"/>
<ellipse cx="563.6" cy="602.404" rx="2.185" ry="1.15" fill="#5a2e1e" opacity="0.35"/>
<ellipse cx="563.6" cy="608.2" rx="5.8" ry="0.9775" fill="#7a3630" opacity="0.8"/>
</g></g>
<rect x="579.2" y="572.5" width="3" height="8.5" fill="#111" />
<clipPath id="cp10"><rect x="540" y="617" width="42" height="45.3"/></clipPath>
<rect x="540" y="617" width="42" height="45.3" fill="#fff" />
<g clip-path="url(#cp10)"><g filter="url(#bl)">
<path d="M545 662.5 L552 659 L556 662.5Z M570 662.5 L582 652 L582 662.5Z" fill="#1a1c2a" />
<ellipse cx="562" cy="643" rx="18.8" ry="23" fill="url(#sk10)" />
<ellipse cx="581.5" cy="640" rx="1.8" ry="4.4" fill="#b88062" />
<path d="M544 639 Q543.6 621.4 562 620.2 Q579.6 621.4 580.6 637 Q575 626.6 562 627 Q549 627.6 544 639Z" fill="#776c64" />
<ellipse cx="553.6" cy="637.47" rx="2.76" ry="0.805" fill="#3a2418" opacity="0.7"/>
<ellipse cx="553.6" cy="640" rx="1.955" ry="1.035" fill="#4a3228" opacity="0.85"/>
<ellipse cx="553.6" cy="640.23" rx="2.99" ry="1.84" fill="#4a3228" opacity="0.18"/>
<ellipse cx="569.6" cy="637.47" rx="2.76" ry="0.805" fill="#3a2418" opacity="0.7"/>
<ellipse cx="569.6" cy="640" rx="1.955" ry="1.035" fill="#4a3228" opacity="0.85"/>
<ellipse cx="569.6" cy="640.23" rx="2.99" ry="1.84" fill="#4a3228" opacity="0.18"/>
<ellipse cx="561.6" cy="647.772" rx="2.185" ry="1.15" fill="#5a2e1e" opacity="0.35"/>
<ellipse cx="561.6" cy="653.4" rx="5.8" ry="0.9775" fill="#a0604e" opacity="0.8"/>
</g></g>
<rect x="579.2" y="618.5" width="3" height="8" fill="#111" />
<clipPath id="cp11"><rect x="541" y="663" width="41" height="45.2"/></clipPath>
<rect x="541" y="663" width="41" height="45.2" fill="#fff" />
<g clip-path="url(#cp11)"><g filter="url(#bl)">
<path d="M541 708.5 Q541 682 545.6 672 Q550.6 664 559 664.2 Q569 665 571.6 678 Q573 695 571.6 708.5 Z" fill="#94694a" />
<path d="M541 708.5 Q542 690 545 684 L549 700 L552 708.5Z" fill="#c9b59c" />
<ellipse cx="559" cy="687.4" rx="12.3" ry="19.2" fill="url(#sk11)" />
<path d="M546.8 683 Q548.4 666.6 559 666.6 Q569.6 667.2 571.2 683 Q566.6 672.4 558 672.8 Q550 673.6 546.8 683Z" fill="#94694a" />
<ellipse cx="553.3" cy="679.91" rx="2.28" ry="0.665" fill="#6a4630" opacity="0.7"/>
<ellipse cx="553.3" cy="682" rx="1.615" ry="0.855" fill="#4a2c20" opacity="0.85"/>
<ellipse cx="553.3" cy="682.19" rx="2.47" ry="1.52" fill="#4a2c20" opacity="0.18"/>
<ellipse cx="564.5" cy="679.91" rx="2.28" ry="0.665" fill="#6a4630" opacity="0.7"/>
<ellipse cx="564.5" cy="682" rx="1.615" ry="0.855" fill="#4a2c20" opacity="0.85"/>
<ellipse cx="564.5" cy="682.19" rx="2.47" ry="1.52" fill="#4a2c20" opacity="0.18"/>
<ellipse cx="558.9" cy="688.728" rx="1.805" ry="0.95" fill="#5a2e1e" opacity="0.35"/>
<ellipse cx="558.9" cy="693.6" rx="4.8" ry="1.425" fill="#c2675a" opacity="0.9"/>
<ellipse cx="558.9" cy="693.6" rx="3.84" ry="0.76" fill="#f8f2ee" />
</g></g>
<clipPath id="cp12"><rect x="540" y="709" width="42" height="45.3"/></clipPath>
<rect x="540" y="709" width="42" height="45.3" fill="#fff" />
<g clip-path="url(#cp12)"><g filter="url(#bl)">
<path d="M540 754.5 L540 737 Q541 716 560 711.6 Q580 713 582.6 735 L582.6 754.5Z" fill="#15100e" />
<path d="M544 754.5 Q548 748 556 746.5 L575 747 Q580 748 582 754.5Z" fill="#35b8da" />
<ellipse cx="565.6" cy="736" rx="15.8" ry="18" fill="url(#sk12)" />
<path d="M548.6 732 Q551.6 716.8 566 716.6 Q580.6 718 582.6 734 Q576.6 723 565 723.2 Q554 724 548.6 732Z" fill="#15100e" />
<ellipse cx="558.8" cy="728.69" rx="2.52" ry="0.735" fill="#1a0e0a" opacity="0.7"/>
<ellipse cx="558.8" cy="731" rx="1.785" ry="0.945" fill="#1a0e0a" opacity="0.85"/>
<ellipse cx="558.8" cy="731.21" rx="2.73" ry="1.68" fill="#1a0e0a" opacity="0.18"/>
<ellipse cx="572.8" cy="728.69" rx="2.52" ry="0.735" fill="#1a0e0a" opacity="0.7"/>
<ellipse cx="572.8" cy="731" rx="1.785" ry="0.945" fill="#1a0e0a" opacity="0.85"/>
<ellipse cx="572.8" cy="731.21" rx="2.73" ry="1.68" fill="#1a0e0a" opacity="0.18"/>
<ellipse cx="565.8" cy="736.568" rx="1.995" ry="1.05" fill="#5a2e1e" opacity="0.35"/>
<ellipse cx="565.8" cy="740.6" rx="5.8" ry="1.575" fill="#c2407c" opacity="0.9"/>
<ellipse cx="565.8" cy="740.6" rx="4.64" ry="0.84" fill="#f8f2ee" />
</g></g>
<clipPath id="cp13"><rect x="540" y="755" width="42" height="45.3"/></clipPath>
<rect x="540" y="755" width="42" height="45.3" fill="#fff" />
<g clip-path="url(#cp13)"><g filter="url(#bl)">
<path d="M540 800.5 L540 795 Q543 792 548 791 L552 800.5Z" fill="#f3cf3c" />
<path d="M570 800.5 L573 795 L578 796 L582 800.5Z" fill="#4a3a20" />
<ellipse cx="561.5" cy="780" rx="19.2" ry="23" fill="url(#sk13)" />
<ellipse cx="541.6" cy="779.5" rx="2.2" ry="4.6" fill="#b27458" />
<ellipse cx="581" cy="779.5" rx="1.8" ry="4.2" fill="#a86a50" />
<path d="M543 777 Q542.6 758.4 561 757 Q579.4 758 580.4 775 Q575 764.8 561 765.2 Q548 765.8 543 777Z" fill="#8e8e8e" />
<ellipse cx="554.4" cy="774.47" rx="2.76" ry="0.805" fill="#5a4a40" opacity="0.7"/>
<ellipse cx="554.4" cy="777" rx="1.955" ry="1.035" fill="#3a2218" opacity="0.85"/>
<ellipse cx="554.4" cy="777.23" rx="2.99" ry="1.84" fill="#3a2218" opacity="0.18"/>
<ellipse cx="570.4" cy="774.47" rx="2.76" ry="0.805" fill="#5a4a40" opacity="0.7"/>
<ellipse cx="570.4" cy="777" rx="1.955" ry="1.035" fill="#3a2218" opacity="0.85"/>
<ellipse cx="570.4" cy="777.23" rx="2.99" ry="1.84" fill="#3a2218" opacity="0.18"/>
<ellipse cx="562.4" cy="784.308" rx="2.185" ry="1.15" fill="#5a2e1e" opacity="0.35"/>
<ellipse cx="562.4" cy="789.6" rx="6.2" ry="0.9775" fill="#8e4a40" opacity="0.8"/>
</g></g>
<rect x="579.4" y="756.5" width="2.8" height="8" fill="#1a1410" />
<clipPath id="cp14"><rect x="537" y="802" width="44" height="43.4"/></clipPath>
<rect x="537" y="802" width="44" height="43.4" fill="#fff" />
<g clip-path="url(#cp14)"><g filter="url(#bl)">
<path d="M537 845.5 L539 843 L548 840 L556 845.5Z M565 845.5 L575 836 L581 838 L581 845.5Z" fill="#6e5424" />
<path d="M548 840.5 L558 845.5 L566 845.5 L573 838 Z" fill="#e9dcc0" />
<ellipse cx="558.6" cy="822.5" rx="19.8" ry="19.6" fill="url(#sk14)" />
<ellipse cx="538.6" cy="820.5" rx="2" ry="4" fill="#8a5636" />
<ellipse cx="578.8" cy="818.5" rx="2" ry="4" fill="#8a5636" />
<path d="M541 823 Q545 846 559 843.5 Q574 842 576.5 822 Q571 831.5 559 831.8 Q547 831.5 541 823Z" fill="#a29c92" />
<path d="M551 826 Q558.5 822.6 566 826 Q566 829 558.5 829 Q551 829 551 826Z" fill="#6a5a50" opacity="0.7"/>
<path d="M543 814 Q545 804 558 803.6 Q571 804 574 814 Q568 806.8 558 807 Q548 807.2 543 814Z" fill="#74482e" opacity="0.55"/>
<ellipse cx="549.6" cy="815.18" rx="2.64" ry="0.77" fill="#3a2418" opacity="0.7"/>
<ellipse cx="549.6" cy="817.6" rx="1.87" ry="0.99" fill="#20120c" opacity="0.85"/>
<ellipse cx="549.6" cy="817.82" rx="2.86" ry="1.76" fill="#20120c" opacity="0.18"/>
<ellipse cx="565.6" cy="815.18" rx="2.64" ry="0.77" fill="#3a2418" opacity="0.7"/>
<ellipse cx="565.6" cy="817.6" rx="1.87" ry="0.99" fill="#20120c" opacity="0.85"/>
<ellipse cx="565.6" cy="817.82" rx="2.86" ry="1.76" fill="#20120c" opacity="0.18"/>
<ellipse cx="557.6" cy="825.024" rx="2.09" ry="1.1" fill="#5a2e1e" opacity="0.35"/>
<ellipse cx="557.6" cy="830.4" rx="4.2" ry="0.935" fill="#c07868" opacity="0.8"/>
</g></g>
<rect x="1012" y="118" width="542" height="176.5" fill="#fff" />
<rect x="1012" y="118" width="542" height="40.5" fill="#002060" />
<rect x="1012" y="158.5" width="158" height="135.7" fill="#d9d9d9" />
<rect x="1273" y="245.5" width="94" height="48.7" fill="#d9d9d9" />
<rect x="1011.4" y="118" width="1.3" height="176.5" fill="#000" />
<rect x="1169.4" y="118" width="1.3" height="176.5" fill="#000" />
<rect x="1272.4" y="118" width="1.3" height="176.5" fill="#000" />
<rect x="1366.4" y="118" width="1.3" height="176.5" fill="#000" />
<rect x="1464.4" y="118" width="1.3" height="176.5" fill="#000" />
<rect x="1553.4" y="118" width="1.3" height="176.5" fill="#000" />
<rect x="1012" y="117.4" width="542" height="1.3" fill="#000" />
<rect x="1012" y="157.9" width="542" height="1.3" fill="#000" />
<rect x="1012" y="198.7" width="542" height="1.3" fill="#000" />
<rect x="1012" y="244.9" width="542" height="1.3" fill="#000" />
<rect x="1012" y="293.6" width="542" height="1.3" fill="#000" />
<text x="1092" y="146" font-size="21.3" text-anchor="middle" font-weight="bold" fill="#fff"  stroke="#fff" stroke-width="0.28">Detalle</text>
<text x="1222.5" y="144.4" font-size="18.7" text-anchor="middle" font-weight="bold" fill="#fff"  stroke="#fff" stroke-width="0.28">Digitadas</text>
<text x="1321" y="144.4" font-size="18.5" text-anchor="middle" font-weight="bold" fill="#fff"  stroke="#fff" stroke-width="0.28">Faltantes</text>
<text x="1417" y="144.5" font-size="18.6" text-anchor="middle" font-weight="bold" fill="#fff"  stroke="#fff" stroke-width="0.28">Total</text>
<text x="1510" y="147" font-size="23" text-anchor="middle" font-weight="bold" fill="#fff"  stroke="#fff" stroke-width="0.28">%</text>
<text x="1016" y="186.9" font-size="21" text-anchor="start" font-weight="bold" fill="#000"  stroke="#000" stroke-width="0.28">Mesas</text>
<text x="1016" y="229.2" font-size="18.6" text-anchor="start" font-weight="bold" fill="#000"  stroke="#000" stroke-width="0.28">Votos Validos</text>
<text x="1016" y="277" font-size="18.6" text-anchor="start" font-weight="bold" fill="#000"  stroke="#000" stroke-width="0.28">Votos Nulos</text>
<text x="1222" y="186.2" font-size="21.4" text-anchor="middle" font-weight="bold" fill="#000"  stroke="#000" stroke-width="0.28">32</text>
<text x="1222" y="229.9" font-size="21.4" text-anchor="middle" font-weight="bold" fill="#000"  stroke="#000" stroke-width="0.28">7,723</text>
<text x="1222" y="277.5" font-size="21.4" text-anchor="middle" font-weight="bold" fill="#000"  stroke="#000" stroke-width="0.28">366</text>
<text x="1320" y="187" font-size="20.8" text-anchor="middle" font-weight="normal" fill="#000"  stroke="#000" stroke-width="0.15">334</text>
<text x="1320" y="231" font-size="21" text-anchor="middle" font-weight="normal" fill="#000"  stroke="#000" stroke-width="0.15">130,050</text>
<clipPath id="cobs"><rect x="1273" y="246" width="93.5" height="48"/></clipPath>
<text x="1277" y="277.3" font-size="18.6" text-anchor="start" font-weight="bold" fill="#000" clip-path="url(#cobs)" stroke="#000" stroke-width="0.28">Observados</text>
<text x="1416" y="187" font-size="21" text-anchor="middle" font-weight="normal" fill="#000"  stroke="#000" stroke-width="0.15">366</text>
<text x="1416" y="231" font-size="21" text-anchor="middle" font-weight="normal" fill="#000"  stroke="#000" stroke-width="0.15">137,773</text>
<text x="1416" y="277.3" font-size="19.2" text-anchor="middle" font-weight="bold" fill="#000"  stroke="#000" stroke-width="0.28">31</text>
<text x="1509" y="186.5" font-size="18.2" text-anchor="middle" font-weight="bold" fill="#000"  stroke="#000" stroke-width="0.28">8.74%</text>
<text x="1509" y="229.5" font-size="18.2" text-anchor="middle" font-weight="bold" fill="#000"  stroke="#000" stroke-width="0.28">7.28%</text>
<rect x="1581" y="157" width="171.5" height="138" fill="#000" />
<rect x="1584" y="160" width="165.5" height="38" fill="#d9d9d9" />
<rect x="1584" y="200.5" width="165.5" height="91.5" fill="#ffc000" />
<text x="1666" y="185" font-size="18.7" text-anchor="middle" font-weight="bold" fill="#000"  stroke="#000" stroke-width="0.28">Votos Emitidos</text>
<text x="1666" y="259.5" font-size="35.8" text-anchor="middle" font-weight="bold" fill="#000"  stroke="#000" stroke-width="0.28">7.63%</text>
<rect x="1010.5" y="304.5" width="743" height="343.5" fill="#fff" stroke="#d4d4d4" stroke-width="1"/>
<text x="1382" y="336.3" font-size="15.5" text-anchor="middle" font-weight="bold" fill="#000"  stroke="#000" stroke-width="0.28">Votación Nacional ADP</text>
<line x1="1050.5" y1="602.5" x2="1735.5" y2="602.5" stroke="#262626" stroke-width="1" />
<text x="1047" y="605.3" font-size="7.8" text-anchor="end" font-weight="bold" fill="#000" stroke="#000" stroke-width="0.25">0</text>
<line x1="1050.5" y1="553.5" x2="1735.5" y2="553.5" stroke="#d2d2d2" stroke-width="1" />
<text x="1047" y="556.3" font-size="7.8" text-anchor="end" font-weight="bold" fill="#000" stroke="#000" stroke-width="0.25">1000</text>
<line x1="1050.5" y1="504.5" x2="1735.5" y2="504.5" stroke="#d2d2d2" stroke-width="1" />
<text x="1047" y="507.3" font-size="7.8" text-anchor="end" font-weight="bold" fill="#000" stroke="#000" stroke-width="0.25">2000</text>
<line x1="1050.5" y1="454.5" x2="1735.5" y2="454.5" stroke="#d2d2d2" stroke-width="1" />
<text x="1047" y="457.3" font-size="7.8" text-anchor="end" font-weight="bold" fill="#000" stroke="#000" stroke-width="0.25">3000</text>
<line x1="1050.5" y1="405.5" x2="1735.5" y2="405.5" stroke="#d2d2d2" stroke-width="1" />
<text x="1047" y="408.3" font-size="7.8" text-anchor="end" font-weight="bold" fill="#000" stroke="#000" stroke-width="0.25">4000</text>
<line x1="1050.5" y1="356.5" x2="1735.5" y2="356.5" stroke="#d2d2d2" stroke-width="1" />
<text x="1047" y="359.3" font-size="7.8" text-anchor="end" font-weight="bold" fill="#000" stroke="#000" stroke-width="0.25">5000</text>
<path d="M1068.1 602.4 V367.434 q0 -1 1 -1 H1097.9 q1 0 1 1 V602.4 Z" fill="#0070c0"/>
<text x="1083.5" y="378.934" font-size="8.4" text-anchor="middle" font-weight="bold" fill="#000" stroke="#000" stroke-width="0.35">4,798</text>
<text x="1083.5" y="613" font-size="6.6" text-anchor="middle" font-weight="bold" fill="#000" font-style="italic" stroke="#000" stroke-width="0.3">Eduardo</text>
<text x="1083.5" y="621" font-size="6.6" text-anchor="middle" font-weight="bold" fill="#000" font-style="italic" stroke="#000" stroke-width="0.3">Hidalgo</text>
<path d="M1115.85 602.4 V511.728 q0 -1 1 -1 H1145.65 q1 0 1 1 V602.4 Z" fill="#7030a0"/>
<text x="1131.25" y="523.228" font-size="8.4" text-anchor="middle" font-weight="bold" fill="#000" stroke="#000" stroke-width="0.35">1,864</text>
<text x="1131.25" y="613" font-size="6.6" text-anchor="middle" font-weight="bold" fill="#000" font-style="italic" stroke="#000" stroke-width="0.3">Nolberto</text>
<text x="1131.25" y="621" font-size="6.6" text-anchor="middle" font-weight="bold" fill="#000" font-style="italic" stroke="#000" stroke-width="0.3">Ortiz</text>
<path d="M1163.6 602.4 V580.679 q0 -1 1 -1 H1193.4 q1 0 1 1 V602.4 Z" fill="#ffc000"/>
<text x="1179" y="592.179" font-size="8.4" text-anchor="middle" font-weight="bold" fill="#000" stroke="#000" stroke-width="0.35">462</text>
<text x="1179" y="613" font-size="6.6" text-anchor="middle" font-weight="bold" fill="#000" font-style="italic" stroke="#000" stroke-width="0.3">Adhamilka</text>
<text x="1179" y="621" font-size="6.6" text-anchor="middle" font-weight="bold" fill="#000" font-style="italic" stroke="#000" stroke-width="0.3">Espinal</text>
<path d="M1211.35 602.4 V597.744 q0 -1 1 -1 H1241.15 q1 0 1 1 V602.4 Z" fill="#4ea72e"/>
<text x="1226.75" y="583.5" font-size="8.4" text-anchor="middle" font-weight="bold" fill="#000" stroke="#000" stroke-width="0.35">115</text>
<text x="1226.75" y="613" font-size="6.6" text-anchor="middle" font-weight="bold" fill="#000" font-style="italic" stroke="#000" stroke-width="0.3">Sixto Gabin</text>
<path d="M1259.1 602.4 V587.318 q0 -1 1 -1 H1288.9 q1 0 1 1 V602.4 Z" fill="#ff0000"/>
<text x="1274.5" y="598.818" font-size="8.4" text-anchor="middle" font-weight="bold" fill="#000" stroke="#000" stroke-width="0.35">327</text>
<text x="1274.5" y="613" font-size="6.6" text-anchor="middle" font-weight="bold" fill="#000" font-style="italic" stroke="#000" stroke-width="0.3">Miguel</text>
<text x="1274.5" y="621" font-size="6.6" text-anchor="middle" font-weight="bold" fill="#000" font-style="italic" stroke="#000" stroke-width="0.3">Ángel</text>
<text x="1274.5" y="629" font-size="6.6" text-anchor="middle" font-weight="bold" fill="#000" font-style="italic" stroke="#000" stroke-width="0.3">Fernández</text>
<path d="M1306.85 602.4 V599.171 q0 -1 1 -1 H1336.65 q1 0 1 1 V602.4 Z" fill="#00b050"/>
<text x="1322.25" y="584.5" font-size="8.4" text-anchor="middle" font-weight="bold" fill="#000" stroke="#000" stroke-width="0.35">86</text>
<text x="1322.25" y="613" font-size="6.6" text-anchor="middle" font-weight="bold" fill="#000" font-style="italic" stroke="#000" stroke-width="0.3">Primitiva</text>
<text x="1322.25" y="621" font-size="6.6" text-anchor="middle" font-weight="bold" fill="#000" font-style="italic" stroke="#000" stroke-width="0.3">Medina</text>
<text x="1370" y="589.203" font-size="8.4" text-anchor="middle" font-weight="bold" fill="#000" stroke="#000" stroke-width="0.35">4</text>
<text x="1370" y="613" font-size="6.6" text-anchor="middle" font-weight="bold" fill="#000" font-style="italic" stroke="#000" stroke-width="0.3">Martín</text>
<text x="1370" y="621" font-size="6.6" text-anchor="middle" font-weight="bold" fill="#000" font-style="italic" stroke="#000" stroke-width="0.3">Snatos</text>
<text x="1370" y="629" font-size="6.6" text-anchor="middle" font-weight="bold" fill="#000" font-style="italic" stroke="#000" stroke-width="0.3">Heredia</text>
<text x="1417.75" y="588.072" font-size="8.4" text-anchor="middle" font-weight="bold" fill="#000" stroke="#000" stroke-width="0.35">27</text>
<text x="1417.75" y="613" font-size="6.6" text-anchor="middle" font-weight="bold" fill="#000" font-style="italic" stroke="#000" stroke-width="0.3">Francelin</text>
<text x="1417.75" y="621" font-size="6.6" text-anchor="middle" font-weight="bold" fill="#000" font-style="italic" stroke="#000" stroke-width="0.3">Almonte</text>
<text x="1465.5" y="589.056" font-size="8.4" text-anchor="middle" font-weight="bold" fill="#000" stroke="#000" stroke-width="0.35">7</text>
<text x="1465.5" y="613" font-size="6.6" text-anchor="middle" font-weight="bold" fill="#000" font-style="italic" stroke="#000" stroke-width="0.3">Minier Pérez</text>
<text x="1465.5" y="621" font-size="6.6" text-anchor="middle" font-weight="bold" fill="#000" font-style="italic" stroke="#000" stroke-width="0.3">Méndez</text>
<text x="1513.25" y="589.4" font-size="8.4" text-anchor="middle" font-weight="bold" fill="#000" stroke="#000" stroke-width="0.35">0</text>
<text x="1513.25" y="613" font-size="6.6" text-anchor="middle" font-weight="bold" fill="#000" font-style="italic" stroke="#000" stroke-width="0.3">Marcelino</text>
<text x="1513.25" y="621" font-size="6.6" text-anchor="middle" font-weight="bold" fill="#000" font-style="italic" stroke="#000" stroke-width="0.3">Polanco</text>
<text x="1561" y="588.515" font-size="8.4" text-anchor="middle" font-weight="bold" fill="#000" stroke="#000" stroke-width="0.35">18</text>
<text x="1561" y="613" font-size="6.6" text-anchor="middle" font-weight="bold" fill="#000" font-style="italic" stroke="#000" stroke-width="0.3">Yuderka</text>
<text x="1561" y="621" font-size="6.6" text-anchor="middle" font-weight="bold" fill="#000" font-style="italic" stroke="#000" stroke-width="0.3">Castellanos</text>
<text x="1608.75" y="589.154" font-size="8.4" text-anchor="middle" font-weight="bold" fill="#000" stroke="#000" stroke-width="0.35">5</text>
<text x="1608.75" y="613" font-size="6.6" text-anchor="middle" font-weight="bold" fill="#000" font-style="italic" stroke="#000" stroke-width="0.3">Aura</text>
<text x="1608.75" y="621" font-size="6.6" text-anchor="middle" font-weight="bold" fill="#000" font-style="italic" stroke="#000" stroke-width="0.3">Heredia</text>
<text x="1656.5" y="589.105" font-size="8.4" text-anchor="middle" font-weight="bold" fill="#000" stroke="#000" stroke-width="0.35">6</text>
<text x="1656.5" y="613" font-size="6.6" text-anchor="middle" font-weight="bold" fill="#000" font-style="italic" stroke="#000" stroke-width="0.3">Omar</text>
<text x="1656.5" y="621" font-size="6.6" text-anchor="middle" font-weight="bold" fill="#000" font-style="italic" stroke="#000" stroke-width="0.3">Cabrera</text>
<text x="1704.25" y="589.203" font-size="8.4" text-anchor="middle" font-weight="bold" fill="#000" stroke="#000" stroke-width="0.35">4</text>
<text x="1704.25" y="613" font-size="6.6" text-anchor="middle" font-weight="bold" fill="#000" font-style="italic" stroke="#000" stroke-width="0.3">Francisco de</text>
<text x="1704.25" y="621" font-size="6.6" text-anchor="middle" font-weight="bold" fill="#000" font-style="italic" stroke="#000" stroke-width="0.3">Asís</text>
<rect x="1015" y="669" width="735.4" height="222" fill="#000" />
<text x="1382" y="693" font-size="14" text-anchor="middle" font-weight="bold" fill="#fff"  stroke="#fff" stroke-width="0.28">Votacion General X Candidatos</text>
<line x1="1048" y1="836.5" x2="1738.7" y2="836.5" stroke="#c8c8c8" stroke-width="1" />
<text x="1044.5" y="839.5" font-size="8" text-anchor="end" font-weight="bold" fill="#fff" stroke="#fff" stroke-width="0.2">0</text>
<line x1="1048" y1="810.5" x2="1738.7" y2="810.5" stroke="#404040" stroke-width="1" />
<text x="1044.5" y="813.5" font-size="8" text-anchor="end" font-weight="bold" fill="#fff" stroke="#fff" stroke-width="0.2">1000</text>
<line x1="1048" y1="785.5" x2="1738.7" y2="785.5" stroke="#404040" stroke-width="1" />
<text x="1044.5" y="788.5" font-size="8" text-anchor="end" font-weight="bold" fill="#fff" stroke="#fff" stroke-width="0.2">2000</text>
<line x1="1048" y1="759.5" x2="1738.7" y2="759.5" stroke="#404040" stroke-width="1" />
<text x="1044.5" y="762.5" font-size="8" text-anchor="end" font-weight="bold" fill="#fff" stroke="#fff" stroke-width="0.2">3000</text>
<line x1="1048" y1="733.5" x2="1738.7" y2="733.5" stroke="#404040" stroke-width="1" />
<text x="1044.5" y="736.5" font-size="8" text-anchor="end" font-weight="bold" fill="#fff" stroke="#fff" stroke-width="0.2">4000</text>
<line x1="1048" y1="708.5" x2="1738.7" y2="708.5" stroke="#404040" stroke-width="1" />
<text x="1044.5" y="711.5" font-size="8" text-anchor="end" font-weight="bold" fill="#fff" stroke="#fff" stroke-width="0.2">5000</text>
<line x1="1123" y1="773" x2="1123" y2="788.707" stroke="#2c2c2c" stroke-width="0.8" />
<line x1="1172.34" y1="808" x2="1172.34" y2="824.654" stroke="#2c2c2c" stroke-width="0.8" />
<line x1="1221.67" y1="817" x2="1221.67" y2="833.551" stroke="#2c2c2c" stroke-width="0.8" />
<line x1="1271.01" y1="812" x2="1271.01" y2="828.116" stroke="#2c2c2c" stroke-width="0.8" />
<line x1="1320.35" y1="818" x2="1320.35" y2="834.295" stroke="#2c2c2c" stroke-width="0.8" />
<line x1="1369.68" y1="820" x2="1369.68" y2="836.397" stroke="#2c2c2c" stroke-width="0.8" />
<line x1="1419.02" y1="820" x2="1419.02" y2="835.808" stroke="#2c2c2c" stroke-width="0.8" />
<line x1="1468.35" y1="820" x2="1468.35" y2="836.321" stroke="#2c2c2c" stroke-width="0.8" />
<line x1="1517.69" y1="820" x2="1517.69" y2="836.5" stroke="#2c2c2c" stroke-width="0.8" />
<line x1="1567.03" y1="820" x2="1567.03" y2="836.038" stroke="#2c2c2c" stroke-width="0.8" />
<line x1="1616.36" y1="820" x2="1616.36" y2="836.372" stroke="#2c2c2c" stroke-width="0.8" />
<line x1="1665.7" y1="820" x2="1665.7" y2="836.346" stroke="#2c2c2c" stroke-width="0.8" />
<line x1="1715.03" y1="820" x2="1715.03" y2="836.397" stroke="#2c2c2c" stroke-width="0.8" />
<polyline fill="none" stroke="#1f5c87" stroke-width="2.6" stroke-linejoin="round" points="1073.7,713.5 1123.0,788.7 1172.3,824.7 1221.7,833.6 1271.0,828.1 1320.3,834.3 1369.7,836.4 1419.0,835.8 1468.4,836.3 1517.7,836.5 1567.0,836.0 1616.4,836.4 1665.7,836.3 1715.0,836.4"/>
<circle cx="1073.7" cy="713.5" r="3.5" fill="#1f5c87"/>
<circle cx="1123.0" cy="788.7" r="3.5" fill="#1f5c87"/>
<circle cx="1172.3" cy="824.7" r="3.5" fill="#1f5c87"/>
<circle cx="1221.7" cy="833.6" r="3.5" fill="#1f5c87"/>
<circle cx="1271.0" cy="828.1" r="3.5" fill="#1f5c87"/>
<circle cx="1320.3" cy="834.3" r="3.5" fill="#1f5c87"/>
<circle cx="1369.7" cy="836.4" r="3.5" fill="#1f5c87"/>
<circle cx="1419.0" cy="835.8" r="3.5" fill="#1f5c87"/>
<circle cx="1468.4" cy="836.3" r="3.5" fill="#1f5c87"/>
<circle cx="1517.7" cy="836.5" r="3.5" fill="#1f5c87"/>
<circle cx="1567.0" cy="836.0" r="3.5" fill="#1f5c87"/>
<circle cx="1616.4" cy="836.4" r="3.5" fill="#1f5c87"/>
<circle cx="1665.7" cy="836.3" r="3.5" fill="#1f5c87"/>
<circle cx="1715.0" cy="836.4" r="3.5" fill="#1f5c87"/>
<line x1="1048" y1="836.5" x2="1738.7" y2="836.5" stroke="#d0d0d0" stroke-width="1" />
<text x="1123" y="771" font-size="8.2" text-anchor="middle" font-weight="bold" fill="#fff" stroke="#fff" stroke-width="0.25">1,864</text>
<text x="1172.34" y="806" font-size="8.2" text-anchor="middle" font-weight="bold" fill="#fff" stroke="#fff" stroke-width="0.25">462</text>
<text x="1221.67" y="815" font-size="8.2" text-anchor="middle" font-weight="bold" fill="#fff" stroke="#fff" stroke-width="0.25">115</text>
<text x="1271.01" y="810" font-size="8.2" text-anchor="middle" font-weight="bold" fill="#fff" stroke="#fff" stroke-width="0.25">327</text>
<text x="1320.35" y="816" font-size="8.2" text-anchor="middle" font-weight="bold" fill="#fff" stroke="#fff" stroke-width="0.25">86</text>
<text x="1369.68" y="818" font-size="8.2" text-anchor="middle" font-weight="bold" fill="#fff" stroke="#fff" stroke-width="0.25">4</text>
<text x="1419.02" y="818" font-size="8.2" text-anchor="middle" font-weight="bold" fill="#fff" stroke="#fff" stroke-width="0.25">27</text>
<text x="1468.35" y="818" font-size="8.2" text-anchor="middle" font-weight="bold" fill="#fff" stroke="#fff" stroke-width="0.25">7</text>
<text x="1517.69" y="818" font-size="8.2" text-anchor="middle" font-weight="bold" fill="#fff" stroke="#fff" stroke-width="0.25">0</text>
<text x="1567.03" y="818" font-size="8.2" text-anchor="middle" font-weight="bold" fill="#fff" stroke="#fff" stroke-width="0.25">18</text>
<text x="1616.36" y="818" font-size="8.2" text-anchor="middle" font-weight="bold" fill="#fff" stroke="#fff" stroke-width="0.25">5</text>
<text x="1665.7" y="818" font-size="8.2" text-anchor="middle" font-weight="bold" fill="#fff" stroke="#fff" stroke-width="0.25">6</text>
<text x="1715.03" y="818" font-size="8.2" text-anchor="middle" font-weight="bold" fill="#fff" stroke="#fff" stroke-width="0.25">4</text>
<text x="1073.67" y="860" font-size="7.7" text-anchor="middle" font-weight="bold" fill="#fff" stroke="#fff" stroke-width="0.25">Eduardo</text>
<text x="1073.67" y="869" font-size="7.7" text-anchor="middle" font-weight="bold" fill="#fff" stroke="#fff" stroke-width="0.25">Hidalgo</text>
<text x="1123" y="860" font-size="7.7" text-anchor="middle" font-weight="bold" fill="#fff" stroke="#fff" stroke-width="0.25">Nolberto</text>
<text x="1123" y="869" font-size="7.7" text-anchor="middle" font-weight="bold" fill="#fff" stroke="#fff" stroke-width="0.25">Ortiz</text>
<text x="1172.34" y="860" font-size="7.7" text-anchor="middle" font-weight="bold" fill="#fff" stroke="#fff" stroke-width="0.25">Adhamilka</text>
<text x="1172.34" y="869" font-size="7.7" text-anchor="middle" font-weight="bold" fill="#fff" stroke="#fff" stroke-width="0.25">Espinal</text>
<text x="1221.67" y="860" font-size="7.7" text-anchor="middle" font-weight="bold" fill="#fff" stroke="#fff" stroke-width="0.25">Sixto Gabin</text>
<text x="1271.01" y="860" font-size="7.7" text-anchor="middle" font-weight="bold" fill="#fff" stroke="#fff" stroke-width="0.25">Miguel</text>
<text x="1271.01" y="869" font-size="7.7" text-anchor="middle" font-weight="bold" fill="#fff" stroke="#fff" stroke-width="0.25">Ángel</text>
<text x="1271.01" y="878" font-size="7.7" text-anchor="middle" font-weight="bold" fill="#fff" stroke="#fff" stroke-width="0.25">Fernández</text>
<text x="1320.35" y="860" font-size="7.7" text-anchor="middle" font-weight="bold" fill="#fff" stroke="#fff" stroke-width="0.25">Primitiva</text>
<text x="1320.35" y="869" font-size="7.7" text-anchor="middle" font-weight="bold" fill="#fff" stroke="#fff" stroke-width="0.25">Medina</text>
<text x="1369.68" y="860" font-size="7.7" text-anchor="middle" font-weight="bold" fill="#fff" stroke="#fff" stroke-width="0.25">Martín</text>
<text x="1369.68" y="869" font-size="7.7" text-anchor="middle" font-weight="bold" fill="#fff" stroke="#fff" stroke-width="0.25">Snatos</text>
<text x="1369.68" y="878" font-size="7.7" text-anchor="middle" font-weight="bold" fill="#fff" stroke="#fff" stroke-width="0.25">Heredia</text>
<text x="1419.02" y="860" font-size="7.7" text-anchor="middle" font-weight="bold" fill="#fff" stroke="#fff" stroke-width="0.25">Francelin</text>
<text x="1419.02" y="869" font-size="7.7" text-anchor="middle" font-weight="bold" fill="#fff" stroke="#fff" stroke-width="0.25">Almonte</text>
<text x="1468.35" y="860" font-size="7.7" text-anchor="middle" font-weight="bold" fill="#fff" stroke="#fff" stroke-width="0.25">Minier</text>
<text x="1468.35" y="869" font-size="7.7" text-anchor="middle" font-weight="bold" fill="#fff" stroke="#fff" stroke-width="0.25">Pérez</text>
<text x="1468.35" y="878" font-size="7.7" text-anchor="middle" font-weight="bold" fill="#fff" stroke="#fff" stroke-width="0.25">Méndez</text>
<text x="1517.69" y="860" font-size="7.7" text-anchor="middle" font-weight="bold" fill="#fff" stroke="#fff" stroke-width="0.25">Marcelino</text>
<text x="1517.69" y="869" font-size="7.7" text-anchor="middle" font-weight="bold" fill="#fff" stroke="#fff" stroke-width="0.25">Polanco</text>
<text x="1567.03" y="860" font-size="7.7" text-anchor="middle" font-weight="bold" fill="#fff" stroke="#fff" stroke-width="0.25">Yuderka</text>
<text x="1567.03" y="869" font-size="7.7" text-anchor="middle" font-weight="bold" fill="#fff" stroke="#fff" stroke-width="0.25">Castellanos</text>
<text x="1616.36" y="860" font-size="7.7" text-anchor="middle" font-weight="bold" fill="#fff" stroke="#fff" stroke-width="0.25">Aura</text>
<text x="1616.36" y="869" font-size="7.7" text-anchor="middle" font-weight="bold" fill="#fff" stroke="#fff" stroke-width="0.25">Heredia</text>
<text x="1665.7" y="860" font-size="7.7" text-anchor="middle" font-weight="bold" fill="#fff" stroke="#fff" stroke-width="0.25">Omar</text>
<text x="1665.7" y="869" font-size="7.7" text-anchor="middle" font-weight="bold" fill="#fff" stroke="#fff" stroke-width="0.25">Cabrera</text>
<text x="1715.03" y="860" font-size="7.7" text-anchor="middle" font-weight="bold" fill="#fff" stroke="#fff" stroke-width="0.25">Francisco</text>
<text x="1715.03" y="869" font-size="7.7" text-anchor="middle" font-weight="bold" fill="#fff" stroke="#fff" stroke-width="0.25">de Asís</text>
</svg>
</body></html>
